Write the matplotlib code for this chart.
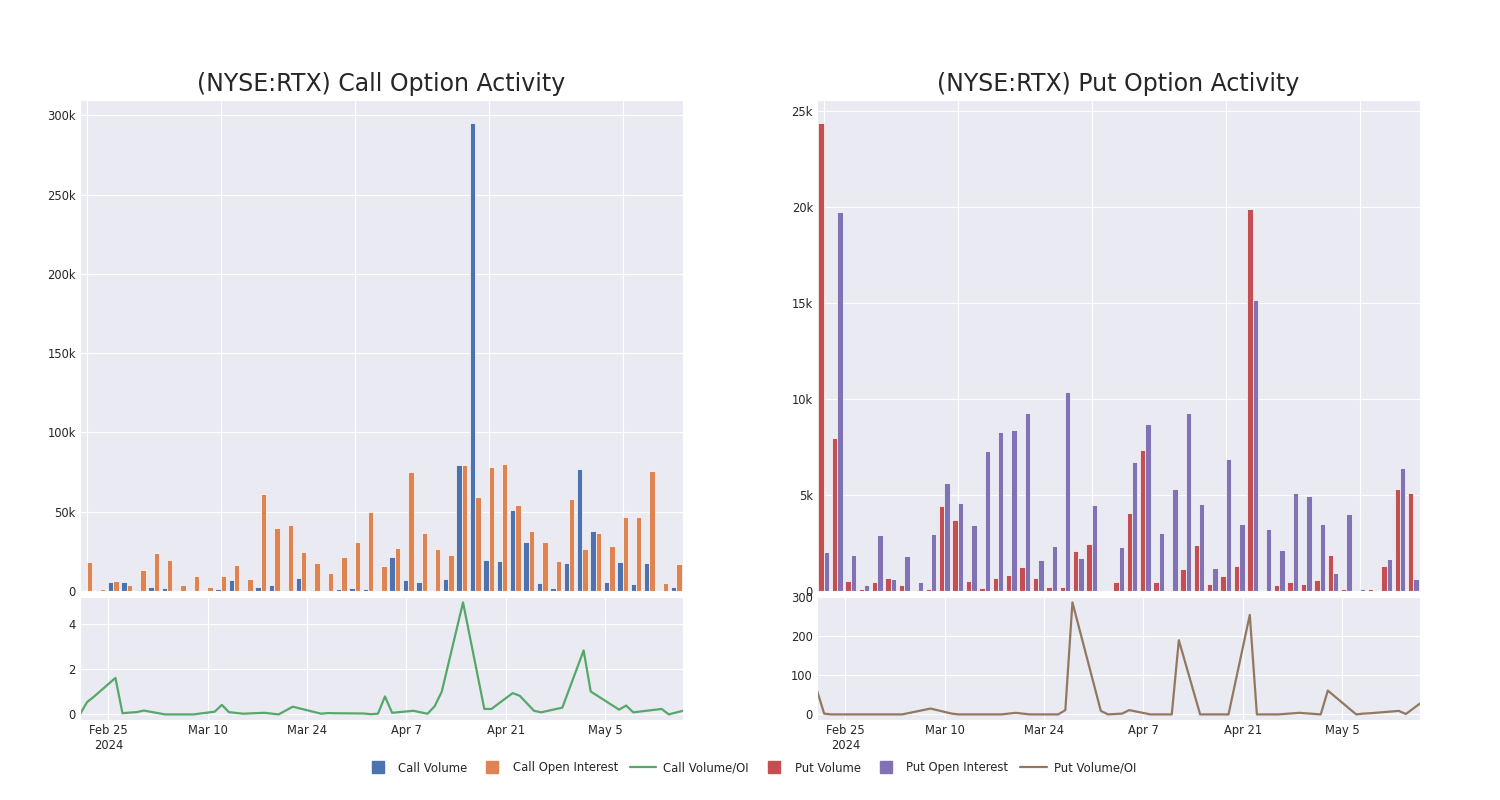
import numpy as np
import pandas as pd
import matplotlib
matplotlib.use('Agg')
import matplotlib.pyplot as plt
import seaborn as sns
from matplotlib.lines import Line2D
from matplotlib.ticker import FuncFormatter

sns.set_style('darkgrid')
plt.rcParams['font.family'] = ['DejaVu Sans']

# trading days with option data
dates = ['2024-02-21', '2024-02-22', '2024-02-23', '2024-02-26', '2024-02-27', '2024-02-28', '2024-02-29',
         '2024-03-01', '2024-03-04', '2024-03-08', '2024-03-11', '2024-03-12', '2024-03-13', '2024-03-15',
         '2024-03-18', '2024-03-20', '2024-03-22', '2024-03-26', '2024-03-27', '2024-03-28', '2024-04-01',
         '2024-04-02', '2024-04-03', '2024-04-04', '2024-04-05', '2024-04-08', '2024-04-10', '2024-04-11',
         '2024-04-12', '2024-04-15', '2024-04-18', '2024-04-19', '2024-04-22', '2024-04-23', '2024-04-25',
         '2024-04-26', '2024-04-29', '2024-05-02', '2024-05-03', '2024-05-07', '2024-05-08', '2024-05-09',
         '2024-05-13', '2024-05-14', '2024-05-16']

call_volume = [0, 500, 5500, 5900, 800, 2300, 1900, 400, 0, 0, 1300, 6800, 600, 2500, 4000, 400, 8200,
               800, 400, 1500, 1900, 1100, 400, 21300, 6800, 5900, 600, 7800, 79700, 295000, 19400, 18800,
               51000, 31000, 5100, 1700, 17900, 77200, 37800, 5900, 18100, 4200, 17500, 0, 2300]
call_oi = [18400, 1000, 6500, 3600, 13500, 24000, 19400, 3600, 9500, 2700, 9300, 16700, 7600, 61400, 39900,
           41600, 24500, 17500, 11200, 21500, 30600, 50000, 15800, 27000, 74900, 36700, 26600, 22800, 79500,
           59300, 78300, 80000, 54200, 37800, 30800, 19000, 57800, 26800, 36500, 28500, 46600, 46600, 75700,
           5100, 17300]
call_ratio = [0, 0.54, 0.79, 1.61, 0.05, 0.08, 0.1, 0.17, 0, 0, 0.12, 0.42, 0.1, 0.03, 0.07, 0, 0.34,
              0.03, 0.06, 0.05, 0.04, 0.01, 0.03, 0.79, 0.07, 0.16, 0.03, 0.36, 1.0, 4.94, 0.24, 0.24,
              0.94, 0.82, 0.16, 0.09, 0.3, 2.82, 1.01, 0.21, 0.39, 0.09, 0.24, 0, 0.16]

put_volume = [24370, 7970, 540, 90, 490, 680, 300, 50, 90, 4450, 3720, 540, 160, 680, 850, 1250, 680, 230,
              210, 2070, 2430, 50, 450, 4070, 7340, 490, 70, 1170, 2400, 370, 800, 1290, 19900, 20, 310,
              450, 350, 560, 1880, 90, 0, 100, 1320, 5320, 5080]
put_oi = [2030, 19760, 1860, 310, 2940, 630, 1830, 490, 2970, 5650, 4590, 3430, 7270, 8300, 8370, 9250,
          1620, 2350, 10380, 1700, 4490, 0, 2300, 6730, 8680, 3030, 5300, 9290, 4520, 1220, 6870, 3500,
          15170, 3220, 2160, 5080, 4970, 3480, 940, 4000, 90, 50, 1670, 6420, 640]
put_ratio = [61, 2, 0, 0, 0, 0, 0, 0, 0, 15, 2, 0, 0, 0, 0, 4, 0, 0, 11, 287, 9, 0, 1, 2, 11, 0, 0, 0,
             190, 0, 0, 0, 255, 0, 0, 0, 4, 0, 61, 0, 2, 3, 9, 1, 28]

date_ticks = ['2024-02-25', '2024-03-10', '2024-03-24', '2024-04-07', '2024-04-21', '2024-05-05']
date_labels = ['Feb 25\n2024', 'Mar 10', 'Mar 24', 'Apr 7', 'Apr 21', 'May 5']

colors = sns.color_palette('deep')
c_blue, c_orange, c_green, c_red, c_purple, c_brown = colors[0], colors[1], colors[2], colors[3], colors[4], colors[5]

d = pd.to_datetime(dates)
x = np.arange(len(dates))

def k_fmt(v, pos):
    if v == 0:
        return '0'
    return '%dk' % round(v / 1000)

fig = plt.figure(figsize=(15, 8), dpi=100)

panels = [
    (0.0533, '(NYSE:RTX) Call Option Activity', call_volume, call_oi, call_ratio, c_blue, c_orange, c_green),
    (0.5447, '(NYSE:RTX) Put Option Activity', put_volume, put_oi, put_ratio, c_red, c_purple, c_brown),
]

for left, title, vol, oi, ratio, cv, co, cr in panels:
    ax = fig.add_axes([left, 0.26125, 0.402, 0.614])
    ax.bar(x - 0.2, vol, width=0.4, color=cv, edgecolor='white', linewidth=0.5)
    ax.bar(x + 0.2, oi, width=0.4, color=co, edgecolor='white', linewidth=0.5)
    ax.set_xlim(-0.5, len(x) - 0.5)
    ax.set_xticks(np.arange(0, len(x), 10))
    ax.tick_params(axis='x', labelbottom=False, length=0)
    ax.tick_params(axis='y', labelsize=8.3, length=0, pad=3)
    ax.yaxis.set_major_formatter(FuncFormatter(k_fmt))
    ax.set_title(title, fontsize=17, color='.15')

    ax2 = fig.add_axes([left, 0.1, 0.402, 0.154])
    ax2.plot(d, ratio, color=cr, linewidth=1.6)
    ax2.set_xlim(d[0], d[-1])
    ax2.set_xticks(pd.to_datetime(date_ticks))
    ax2.set_xticklabels(date_labels, ha='center', multialignment='center')
    ax2.tick_params(labelsize=8.3, length=0, pad=3)

handles = [
    Line2D([], [], marker='s', linestyle='none', markersize=8, color=c_blue),
    Line2D([], [], marker='s', linestyle='none', markersize=8, color=c_orange),
    Line2D([], [], color=c_green, linewidth=1.6),
    Line2D([], [], marker='s', linestyle='none', markersize=8, color=c_red),
    Line2D([], [], marker='s', linestyle='none', markersize=8, color=c_purple),
    Line2D([], [], color=c_brown, linewidth=1.6),
]
labels = ['Call Volume', 'Call Open Interest', 'Call Volume/OI', 'Put Volume', 'Put Open Interest', 'Put Volume/OI']
fig.legend(handles, labels, loc='center', bbox_to_anchor=(0.5, 0.04), ncol=6, frameon=False,
           fontsize=8.4, handlelength=2.3, handletextpad=0.6, columnspacing=1.0)

fig.savefig('out.png', dpi=100)
